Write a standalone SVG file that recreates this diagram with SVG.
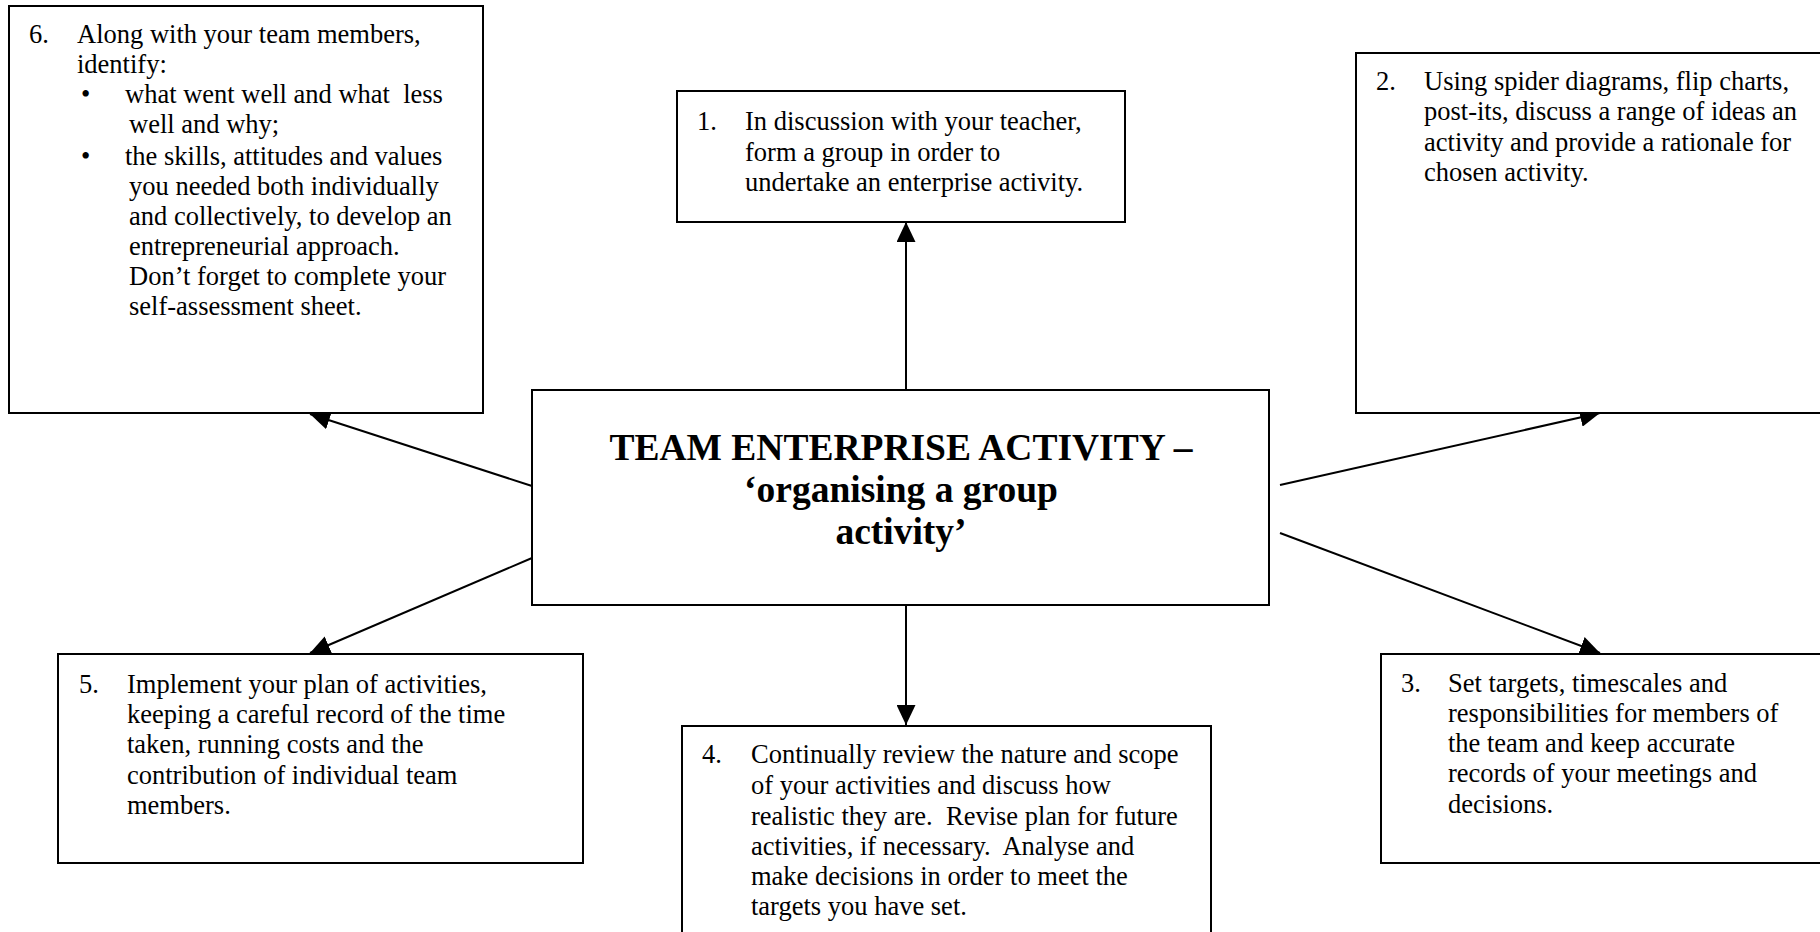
<svg xmlns="http://www.w3.org/2000/svg" width="1820" height="932" viewBox="0 0 1820 932">
  <style>
    .box { fill: #ffffff; stroke: #000000; stroke-width: 2; }
    .txt { font-family: "Liberation Serif", "Times New Roman", serif; font-size: 26.5px; fill: #000000; white-space: pre; }
    .title { font-family: "Liberation Serif", "Times New Roman", serif; font-size: 37.5px; font-weight: bold; fill: #000000; text-anchor: middle; }
    .link { stroke: #000000; stroke-width: 2; fill: none; marker-end: url(#head); }
  </style>
  <defs>
    <marker id="head" markerUnits="userSpaceOnUse" markerWidth="20" markerHeight="19" refX="20" refY="9.5" orient="auto">
      <path d="M0,0 L20,9.5 L0,19 Z" fill="#000000"/>
    </marker>
  </defs>
  <rect width="1820" height="932" fill="#ffffff"/>

  <!-- connectors from the central box -->
  <g id="connectors">
    <line class="link" x1="906" y1="390" x2="906" y2="222"/>
    <line class="link" x1="906" y1="605" x2="906" y2="725"/>
    <line class="link" x1="532" y1="486" x2="310" y2="414"/>
    <line class="link" x1="532" y1="558" x2="310" y2="653"/>
    <line class="link" x1="1280" y1="485" x2="1600" y2="413"/>
    <line class="link" x1="1280" y1="533" x2="1600" y2="653"/>
  </g>

  <g id="step6">
    <rect class="box" x="9" y="6" width="474" height="407"/>
    <text class="txt" x="29" y="43">6.</text>
    <text class="txt" x="77" y="43">Along with your team members,</text>
    <text class="txt" x="77" y="73">identify:</text>
    <text class="txt" x="81" y="103">•</text>
    <text class="txt" x="125" y="103">what went well and what  less</text>
    <text class="txt" x="129" y="133">well and why;</text>
    <text class="txt" x="81" y="165">•</text>
    <text class="txt" x="125" y="165">the skills, attitudes and values</text>
    <text class="txt" x="129" y="195">you needed both individually</text>
    <text class="txt" x="129" y="225">and collectively, to develop an</text>
    <text class="txt" x="129" y="255">entrepreneurial approach.</text>
    <text class="txt" x="129" y="285">Don’t forget to complete your</text>
    <text class="txt" x="129" y="315">self-assessment sheet.</text>
  </g>

  <g id="step1">
    <rect class="box" x="677" y="91" width="448" height="131"/>
    <text class="txt" x="697" y="130">1.</text>
    <text class="txt" x="745" y="130">In discussion with your teacher,</text>
    <text class="txt" x="745" y="161">form a group in order to</text>
    <text class="txt" x="745" y="191">undertake an enterprise activity.</text>
  </g>

  <g id="step2">
    <rect class="box" x="1356" y="53" width="480" height="360"/>
    <text class="txt" x="1376" y="90">2.</text>
    <text class="txt" x="1424" y="90">Using spider diagrams, flip charts,</text>
    <text class="txt" x="1424" y="120">post-its, discuss a range of ideas an</text>
    <text class="txt" x="1424" y="151">activity and provide a rationale for</text>
    <text class="txt" x="1424" y="181">chosen activity.</text>
  </g>

  <g id="centre">
    <rect class="box" x="532" y="390" width="737" height="215"/>
    <text class="title" x="901" y="460">TEAM ENTERPRISE ACTIVITY –</text>
    <text class="title" x="901" y="502">‘organising a group</text>
    <text class="title" x="901" y="544">activity’</text>
  </g>

  <g id="step5">
    <rect class="box" x="58" y="654" width="525" height="209"/>
    <text class="txt" x="79" y="693">5.</text>
    <text class="txt" x="127" y="693">Implement your plan of activities,</text>
    <text class="txt" x="127" y="723">keeping a careful record of the time</text>
    <text class="txt" x="127" y="753">taken, running costs and the</text>
    <text class="txt" x="127" y="784">contribution of individual team</text>
    <text class="txt" x="127" y="814">members.</text>
  </g>

  <g id="step4">
    <rect class="box" x="682" y="726" width="529" height="230"/>
    <text class="txt" x="702" y="763">4.</text>
    <text class="txt" x="751" y="763">Continually review the nature and scope</text>
    <text class="txt" x="751" y="794">of your activities and discuss how</text>
    <text class="txt" x="751" y="825">realistic they are.  Revise plan for future</text>
    <text class="txt" x="751" y="855">activities, if necessary.  Analyse and</text>
    <text class="txt" x="751" y="885">make decisions in order to meet the</text>
    <text class="txt" x="751" y="915">targets you have set.</text>
  </g>

  <g id="step3">
    <rect class="box" x="1381" y="654" width="460" height="209"/>
    <text class="txt" x="1401" y="692">3.</text>
    <text class="txt" x="1448" y="692">Set targets, timescales and</text>
    <text class="txt" x="1448" y="722">responsibilities for members of</text>
    <text class="txt" x="1448" y="752">the team and keep accurate</text>
    <text class="txt" x="1448" y="782">records of your meetings and</text>
    <text class="txt" x="1448" y="813">decisions.</text>
  </g>
</svg>
